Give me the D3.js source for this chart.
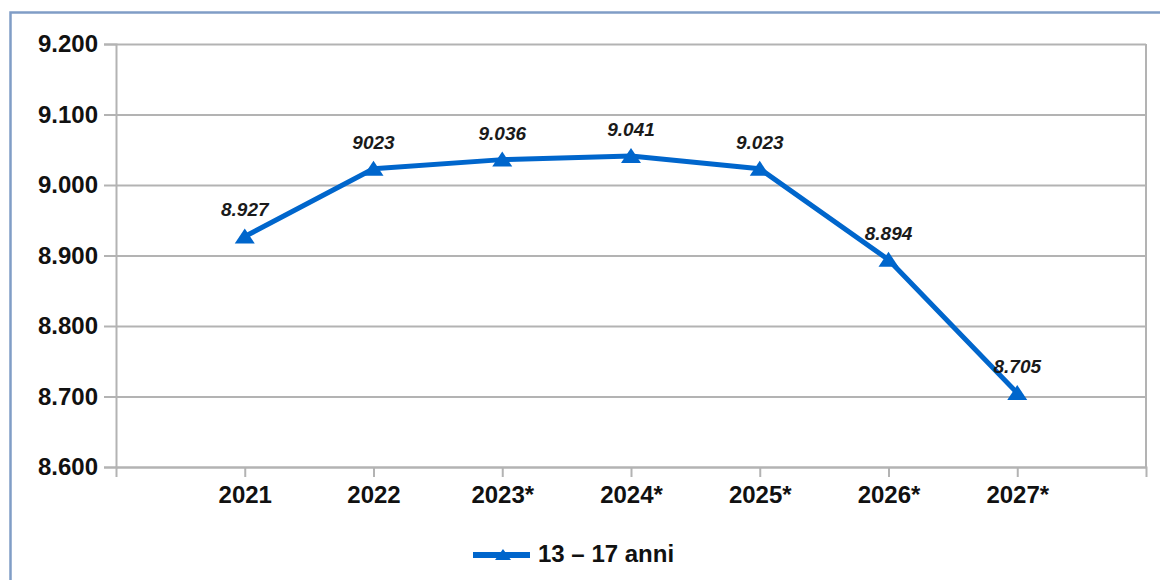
<!DOCTYPE html>
<html>
<head>
<meta charset="utf-8">
<script src="https://cdn.jsdelivr.net/npm/d3@7"></script>
<style>
  body { margin: 0; background: #fff; }
  svg text { font-family: "Liberation Sans", Arial, sans-serif; }
</style>
</head>
<body>
<div id="chart"></div>
<script>
// data
var years = ["2021", "2022", "2023*", "2024*", "2025*", "2026*", "2027*"];
var values = [8927, 9023, 9036, 9041, 9023, 8894, 8705];
var valueLabels = ["8.927", "9023", "9.036", "9.041", "9.023", "8.894", "8.705"];
var yTicks = [8600, 8700, 8800, 8900, 9000, 9100, 9200];
var seriesName = "13 \u2013 17 anni";

var w = 1160;
var h = 580;
var pl = 116; // plot left
var pr = 1146; // plot right
var pt = 44;
var pb = 467;
var blue = "#0066cc";

var itFmt = d3.formatLocale({ decimal: ",", thousands: ".", grouping: [3], currency: ["€", ""] }).format(",");

var svg = d3.select("#chart").append("svg").attr("width", w).attr("height", h);

// frame
svg.append("rect")
  .attr("x", 10.5).attr("y", 12.5)
  .attr("width", 1200).attr("height", 700)
  .attr("fill", "none")
  .attr("stroke", "#809dc6")
  .attr("stroke-width", 2.5);

var x = d3.scalePoint().domain(years).range([pl, pr]).padding(1);
var y = d3.scaleLinear().domain([8600, 9200]).range([pb, pt]);

// gridlines
var grid = svg.append("g")
  .attr("transform", "translate(" + pl + ",0)")
  .call(d3.axisLeft(y).tickValues(yTicks).tickSize(-(pr - pl)).tickFormat(""));
grid.select(".domain").remove();
grid.selectAll("line").attr("stroke", "#b3b3b3").attr("stroke-width", 2);

// y axis
var yAx = svg.append("g")
  .attr("transform", "translate(" + pl + ",0)")
  .call(d3.axisLeft(y).tickValues(yTicks).tickSize(12).tickPadding(6).tickFormat(itFmt));
yAx.select(".domain").attr("stroke", "#b3b3b3").attr("stroke-width", 2);
yAx.selectAll("line").attr("stroke", "#b3b3b3").attr("stroke-width", 2);
yAx.selectAll("text")
  .attr("font-size", 24).attr("font-weight", "bold").attr("fill", "#111");

// x axis
var xAx = svg.append("g")
  .attr("transform", "translate(0," + pb + ")")
  .call(d3.axisBottom(x).tickSize(10).tickSizeOuter(10).tickPadding(9));
xAx.select(".domain").attr("stroke", "#b3b3b3").attr("stroke-width", 2);
xAx.selectAll("line").attr("stroke", "#b3b3b3").attr("stroke-width", 2);
xAx.selectAll("text")
  .attr("font-size", 24).attr("font-weight", "bold").attr("fill", "#111");

// right border of plot
svg.append("line")
  .attr("x1", pr).attr("x2", pr).attr("y1", pt).attr("y2", pb)
  .attr("stroke", "#b3b3b3").attr("stroke-width", 2);

// series
var pts = years.map(function (d, i) { return { year: d, v: values[i], lab: valueLabels[i] }; });

var line = d3.line().x(function (d) { return x(d.year); }).y(function (d) { return y(d.v); });

svg.append("path")
  .datum(pts)
  .attr("d", line)
  .attr("fill", "none")
  .attr("stroke", blue)
  .attr("stroke-width", 5)
  .attr("stroke-linejoin", "round");

var tri = "M0,-8L10,7L-10,7Z";

svg.selectAll(".marker")
  .data(pts)
  .enter()
  .append("path")
  .attr("class", "marker")
  .attr("d", tri)
  .attr("fill", blue)
  .attr("transform", function (d) { return "translate(" + x(d.year) + "," + y(d.v) + ")"; });

svg.selectAll(".lab")
  .data(pts)
  .enter()
  .append("text")
  .attr("class", "lab")
  .attr("x", function (d) { return x(d.year); })
  .attr("y", function (d) { return y(d.v) - 20; })
  .attr("text-anchor", "middle")
  .attr("font-size", 19)
  .attr("font-weight", "bold")
  .attr("font-style", "italic")
  .attr("fill", "#1a1a1a")
  .text(function (d) { return d.lab; });

// legend
var lg = svg.append("g").attr("transform", "translate(473,555)");
lg.append("line")
  .attr("x1", 0).attr("x2", 57).attr("y1", 0).attr("y2", 0)
  .attr("stroke", blue).attr("stroke-width", 6);
lg.append("path")
  .attr("d", "M0,-6L8,5L-8,5Z")
  .attr("transform", "translate(30,0)")
  .attr("fill", blue);
lg.append("text")
  .attr("x", 65).attr("y", 7)
  .attr("font-size", 24).attr("font-weight", "bold").attr("fill", "#111")
  .text(seriesName);
</script>
</body>
</html>
